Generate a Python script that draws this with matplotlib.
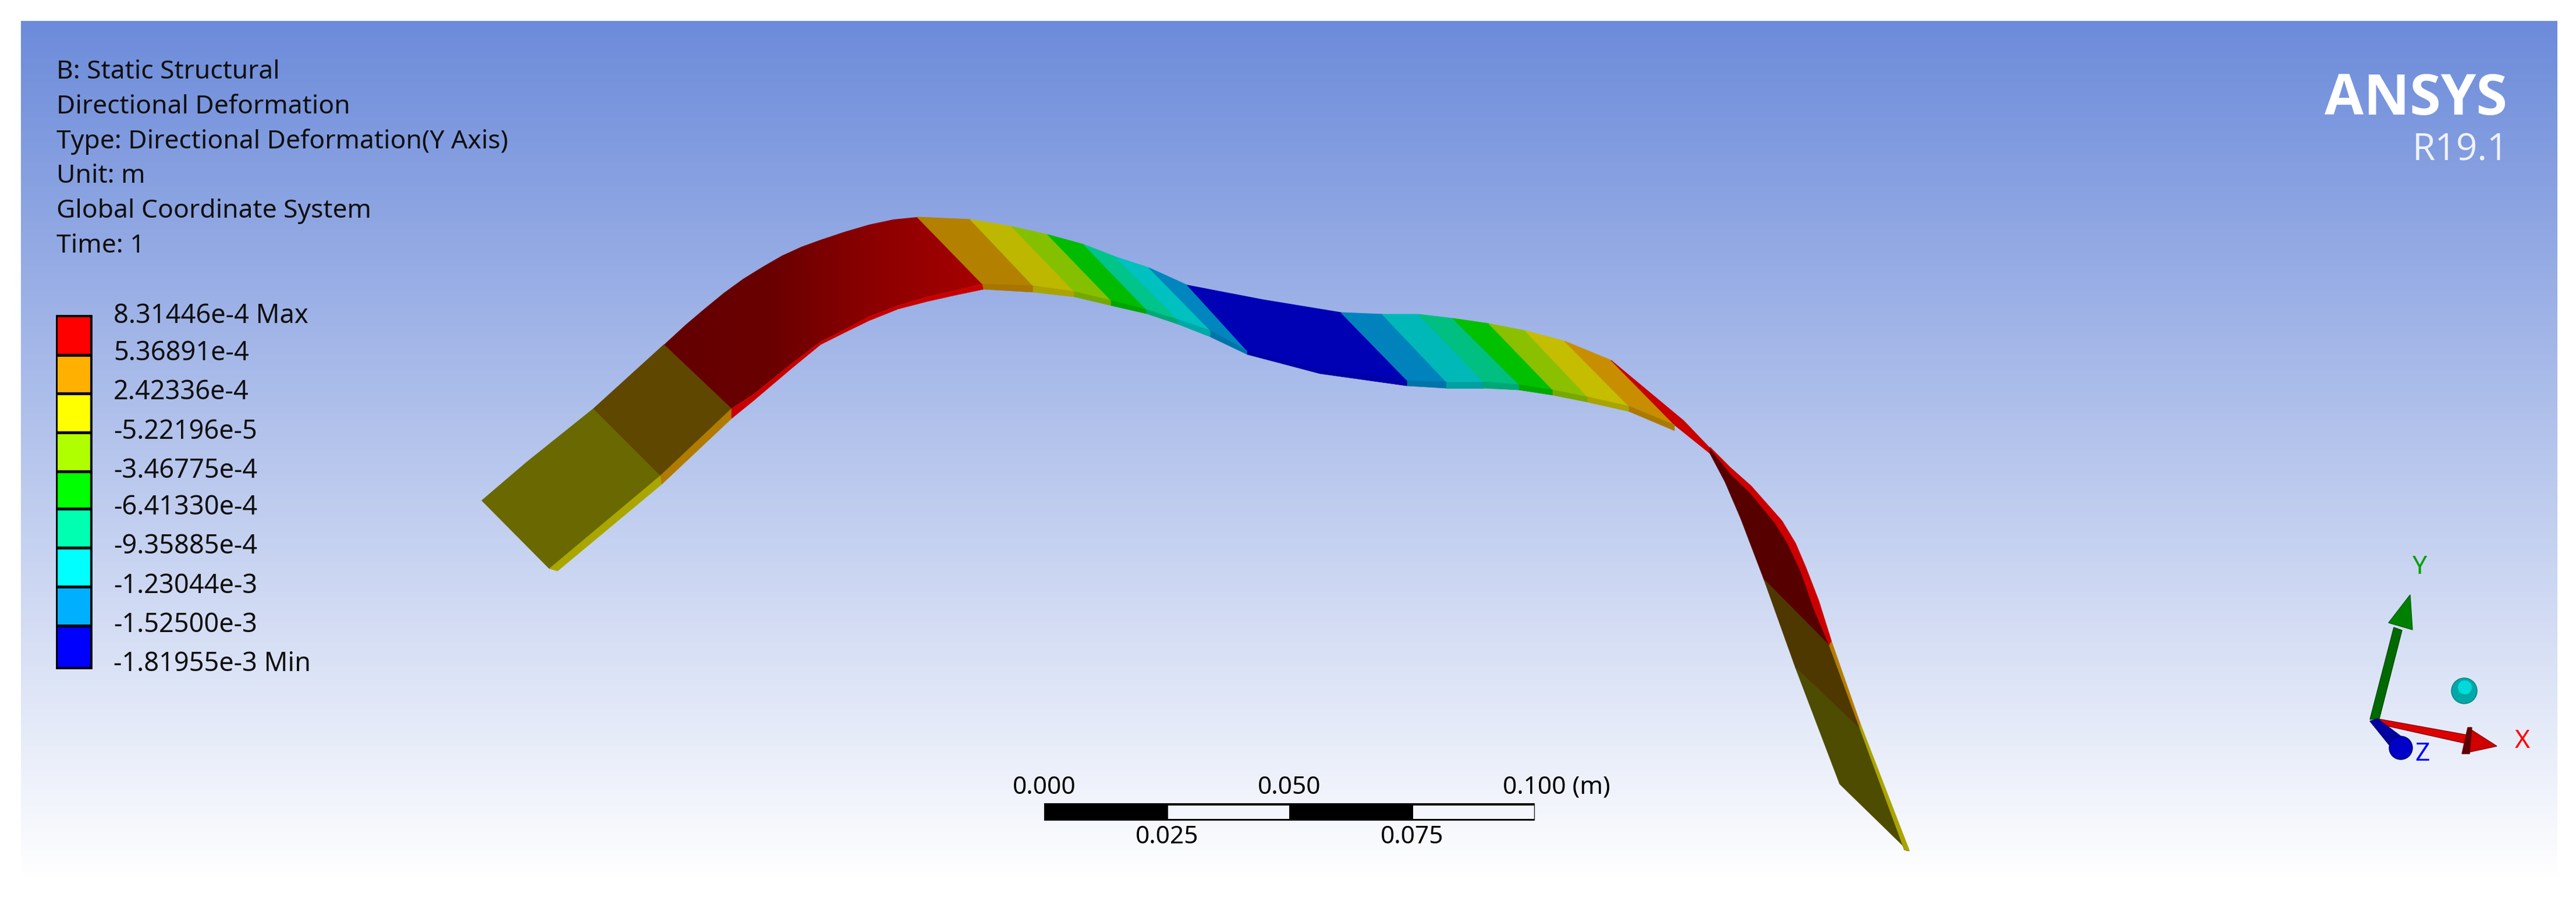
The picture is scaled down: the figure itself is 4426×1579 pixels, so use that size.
import numpy as np
import matplotlib
matplotlib.use('Agg')
import matplotlib.pyplot as plt
from matplotlib.colors import LinearSegmentedColormap
from matplotlib.patches import Polygon, Rectangle, Circle

W, H = 4426, 1579

info_lines = ['B: Static Structural', 'Directional Deformation',
              'Type: Directional Deformation(Y Axis)', 'Unit: m',
              'Global Coordinate System', 'Time: 1']
info_y = [124, 184, 244, 303, 363, 423]

legend_labels = ['8.31446e-4 Max', '5.36891e-4', '2.42336e-4', '-5.22196e-5', '-3.46775e-4',
                 '-6.41330e-4', '-9.35885e-4', '-1.23044e-3', '-1.52500e-3', '-1.81955e-3 Min']
legend_label_y = [543, 607, 674, 742, 809, 872, 939, 1007, 1074, 1141]
legend_edges = [542, 610, 676, 743, 810, 874, 941, 1008, 1075, 1148]
legend_colors = ['#ff0000', '#ffb000', '#ffff00', '#b0ff00', '#00ff00',
                 '#00ffb0', '#00ffff', '#00b0ff', '#0000ff']

# outline of the strip, pixels
top_xy = [(828, 860), (904, 795), (1020, 702), (1141, 592), (1178, 558), (1211, 530), (1244, 503),
          (1277, 479), (1311, 458), (1344, 439), (1377, 424), (1410, 412), (1452, 398), (1493, 386),
          (1535, 377), (1576, 373), (1667, 377), (1738, 389), (1800, 403), (1862, 420), (1916, 441),
          (1974, 460), (2040, 490), (2170, 515), (2304, 537), (2375, 540), (2437, 540), (2496, 547),
          (2558, 556), (2620, 568), (2688, 586), (2768, 619), (2893, 723), (2938, 770), (2973, 814),
          (3009, 849), (3049, 898), (3071, 933), (3094, 982), (3116, 1045), (3143, 1109), (3196, 1253),
          (3272, 1460)]
bottom_xy = [(944, 977), (1135, 817), (1257, 702), (1294, 678), (1360, 625), (1410, 587), (1452, 566),
             (1493, 544), (1543, 525), (1593, 510), (1642, 499), (1688, 488), (1775, 491), (1846, 501),
             (1909, 516), (1970, 532), (2024, 549), (2080, 568), (2143, 603), (2268, 635), (2418, 654),
             (2485, 656), (2549, 656), (2610, 661), (2668, 670), (2728, 682), (2799, 698), (2877, 730),
             (2938, 779), (2964, 828), (2991, 891), (3031, 996), (3085, 1147), (3161, 1347), (3279, 1462)]
side_xy = [(958, 981), (1137, 832), (1257, 719), (1294, 689), (1360, 633), (1410, 592), (1452, 571),
           (1493, 551), (1543, 531), (1593, 518), (1642, 507), (1690, 497), (1775, 502), (1846, 510),
           (1909, 525), (1970, 539), (2024, 557), (2080, 579), (2143, 609), (2268, 642), (2418, 663),
           (2485, 667), (2549, 667), (2610, 670), (2668, 679), (2728, 691), (2799, 707), (2877, 740)]
outer_xy = [(2938, 768), (2973, 803), (3009, 835), (3040, 870), (3062, 895), (3085, 933), (3103, 975),
            (3125, 1032), (3147, 1102), (3196, 1242), (3281, 1462)]

top_breaks = [0, 2, 3, 15, 16, 17, 18, 19, 20, 21, 22, 24, 25, 26, 27, 28, 29, 30, 31, 33, 40, 41, 42]
bottom_breaks = [0, 1, 2, 11, 12, 13, 14, 15, 16, 17, 18, 20, 21, 22, 23, 24, 25, 26, 27, 28, 31, 32, 34]
face_colors = ['#6a6800', '#5f4700', 'red_grad', '#b38000', '#bdb700', '#85c000', '#00bb00', '#00c48a',
               '#00c0c0', '#0085bf', '#0000b5', '#0083bd', '#00b8b8', '#00bf80', '#00c000', '#8ac000',
               '#c4bd00', '#c88e00', '#c80000', '#560000', '#4f3800', '#4e4c00']
side_colors = ['#aaa600', '#b07b00', '#c80000', '#a87500', '#aaa300', '#75a800', '#00a500', '#00a876',
               '#00a8a8', '#0074a8', '#0000a8', '#0074a8', '#00a0a0', '#00a876', '#00a800', '#78a800',
               '#aaa300', '#aa7a00']
outer_colors = ['#cc0000', '#b57d00', '#aaa400']
outer_breaks = [0, 8, 9, 10]
outer_inner_breaks = [33, 40, 41, 42]

scale_values = [0.000, 0.025, 0.050, 0.075, 0.100]
scale_labels = ['0.000', '0.025', '0.050', '0.075', '0.100 (m)']

fig = plt.figure(figsize=(W / 100, H / 100), dpi=100, facecolor='white')
ax = fig.add_axes([0, 0, 1, 1])

# background
bg = np.linspace(0, 1, 256).reshape(-1, 1)
bg_cmap = LinearSegmentedColormap.from_list('bg', ['#6c8bda', '#ffffff'])
ax.imshow(bg, cmap=bg_cmap, extent=(36, 4394, 1513, 36), aspect='auto', zorder=0)

# strip faces
for i, col in enumerate(face_colors):
    a, b = top_breaks[i], top_breaks[i + 1]
    c, d = bottom_breaks[i], bottom_breaks[i + 1]
    pts = top_xy[a:b + 1] + bottom_xy[c:d + 1][::-1]
    if col == 'red_grad':
        poly = Polygon(pts, closed=True, fc='none', ec='none', transform=ax.transData)
        ax.add_patch(poly)
        red = LinearSegmentedColormap.from_list('red', ['#640000', '#6a0000', '#8c0000', '#a60000'])
        im = ax.imshow(np.linspace(0, 1, 64).reshape(1, -1), cmap=red, aspect='auto', zorder=2,
                       extent=(1140, 1690, 1000, 300))
        im.set_clip_path(poly)
    else:
        ax.add_patch(Polygon(pts, closed=True, fc=col, ec=col, lw=0.8, zorder=2))

# thin side of the strip
for i, col in enumerate(side_colors):
    c, d = bottom_breaks[i], bottom_breaks[i + 1]
    pts = bottom_xy[c:d + 1] + side_xy[c:d + 1][::-1]
    ax.add_patch(Polygon(pts, closed=True, fc=col, ec=col, lw=0.5, zorder=3))
for i, col in enumerate(outer_colors):
    pts = outer_xy[outer_breaks[i]:outer_breaks[i + 1] + 1] + \
          top_xy[outer_inner_breaks[i]:outer_inner_breaks[i + 1] + 1][::-1]
    ax.add_patch(Polygon(pts, closed=True, fc=col, ec=col, lw=0.5, zorder=3))

# header text
for txt, y in zip(info_lines, info_y):
    ax.text(97, y, txt, fontsize=32, family='Noto Sans', va='center', ha='left', color='#101010', zorder=5)

# legend
ax.add_patch(Rectangle((97, 542), 60, 606, fc='black', ec='black', lw=2, zorder=4))
for i, col in enumerate(legend_colors):
    y0, y1 = legend_edges[i] + 3, legend_edges[i + 1] - 2
    ax.add_patch(Rectangle((99, y0), 56, y1 - y0, fc=col, ec='none', zorder=5))
for txt, y in zip(legend_labels, legend_label_y):
    ax.text(195, y, txt, fontsize=32.5, family='Noto Sans', va='center', ha='left', color='#101010', zorder=5)

# scale bar
sx = [1794 + v * 8430 for v in scale_values]
ax.add_patch(Rectangle((sx[0], 1380), sx[4] - sx[0], 30, fc='black', ec='none', zorder=4))
for i in (1, 3):
    ax.add_patch(Rectangle((sx[i] + 2, 1384), sx[i + 1] - sx[i] - 3, 23, fc='#f3f6fe', ec='none', zorder=5))
for i, txt in enumerate(scale_labels):
    ypos = 1438 if i % 2 else 1353
    ha = 'left' if i == 4 else 'center'
    xpos = 2582 if i == 4 else sx[i]
    ax.text(xpos, ypos, txt, fontsize=30.5, family='Noto Sans', va='center', ha=ha, color='black', zorder=5)

# logo
ax.text(4308, 172, 'ANSYS', fontsize=70, family='Open Sans', fontweight='bold', color='white',
        va='center', ha='right', zorder=5)
ax.text(4310, 258, 'R19.1', fontsize=46, family='Open Sans', color='#eef2fc', va='center', ha='right', zorder=5)

# triad
ax.add_patch(Polygon([(4072, 1236), (4088, 1235), (4127, 1083), (4113, 1078)], closed=True, fc='#006a00', ec='#004c00', lw=1, zorder=4))
ax.add_patch(Polygon([(4141, 1022), (4104, 1070), (4145, 1082)], closed=True, fc='#008000', ec='#006000', lw=1, zorder=4))
ax.add_patch(Polygon([(4085, 1235), (4240, 1263), (4235, 1277), (4100, 1247)], closed=True, fc='#dd0000', ec='#8a0000', lw=1, zorder=4))
ax.add_patch(Polygon([(4290, 1282), (4240, 1250), (4230, 1295)], closed=True, fc='#d00000', ec='#900000', lw=1, zorder=4))
ax.add_patch(Polygon([(4241, 1250), (4231, 1295), (4243, 1295), (4247, 1250)], closed=True, fc='#600000', ec='#600000', lw=1, zorder=5))
ax.add_patch(Polygon([(4072, 1239), (4085, 1235), (4125, 1265), (4105, 1280)], closed=True, fc='#0000a0', ec='#000080', lw=1, zorder=5))
ax.add_patch(Circle((4125, 1285), 20, fc='#0000c8', ec='#000070', lw=1, zorder=6))
ax.add_patch(Circle((4234, 1187), 22, fc='#00a8a8', ec='#008080', lw=1, zorder=4))
ax.add_patch(Circle((4235, 1181), 12, fc='#00dada', ec='none', zorder=4))
ax.text(4158, 975, 'Y', fontsize=32, family='Noto Sans', color='#00a000', ha='center', va='center', zorder=5)
ax.text(4334, 1274, 'X', fontsize=32, family='Noto Sans', color='#ff0000', ha='center', va='center', zorder=5)
ax.text(4162, 1296, 'Z', fontsize=32, family='Noto Sans', color='#0000ff', ha='center', va='center', zorder=7)

ax.set_xlim(0, W)
ax.set_ylim(H, 0)
ax.axis('off')
fig.savefig('out.png', dpi=100)
